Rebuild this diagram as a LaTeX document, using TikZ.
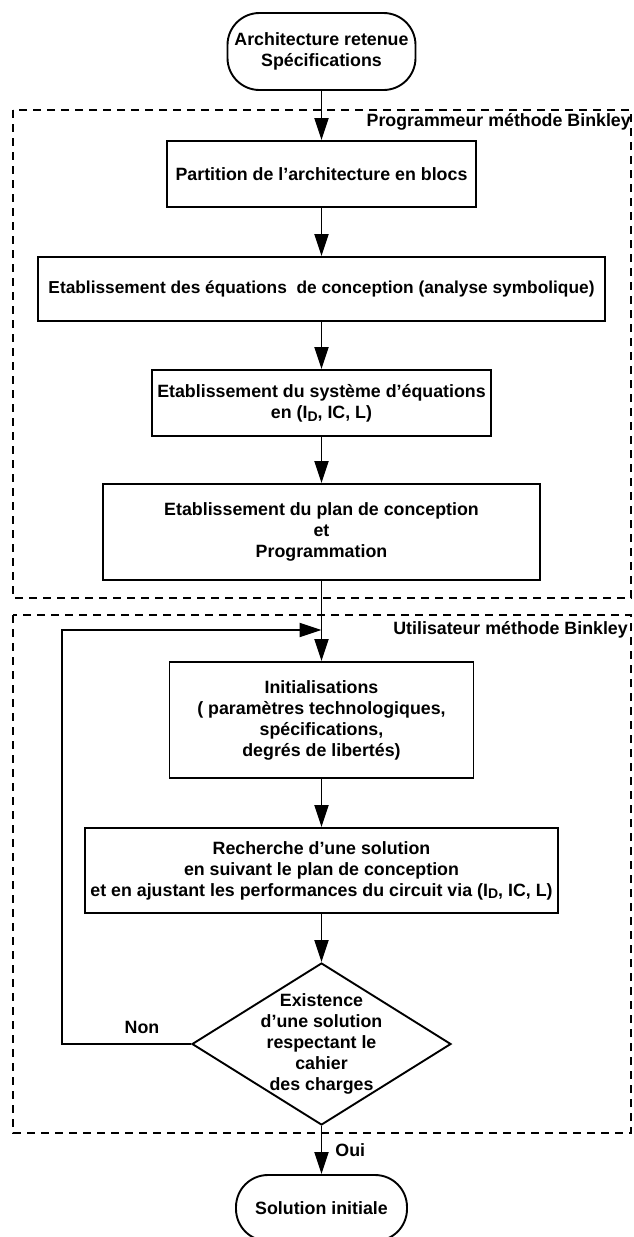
\documentclass[tikz,border=0pt]{standalone}
\usepackage{fontspec}
\setmainfont{Liberation Sans}
\usetikzlibrary{shapes.geometric,arrows.meta}
\newcommand{\Idrain}{I\raisebox{-.3ex}{\fontsize{14}{14}\selectfont D}}
\tikzset{
	bloc/.style={draw,line width=1.9pt,align=center,inner sep=0pt},
	terminal/.style={bloc,rounded corners=32pt},
	zone/.style={draw,line width=2pt,dash pattern=on 8pt off 6pt},
	flow/.style={line width=1.9pt,-{Triangle[length=22pt,width=14pt]}},
	tag/.style={inner sep=0pt}
}
\begin{document}
\begin{tikzpicture}[x=1pt,y=-1pt,font=\fontsize{17.8}{21}\selectfont\bfseries]
	%
	\def\axe{321.5}
	\def\zoneleft{13}
	\def\zoneright{631}
	\useasboundingbox (0,0) rectangle (633,1237);
	% zones
		\draw[zone] (\zoneleft,110) rectangle (\zoneright,598);
		\draw[zone] (\zoneleft,615) rectangle (\zoneright,1133);
		\node[tag,anchor=east] (prog) at (\zoneright,122) {Programmeur méthode Binkley};
		\node[tag,anchor=east] (util) at (628,630) {Utilisateur méthode Binkley};
	% blocs
		\node[terminal,minimum width=188,minimum height=77] (start) at (\axe,51.5) {Architecture retenue\\Spécifications};
		\node[bloc,minimum width=309,minimum height=66] (part) at (\axe,174) {Partition de l’architecture en blocs};
		\node[bloc,minimum width=567,minimum height=64,font=\fontsize{17.3}{21}\selectfont\bfseries] (equ) at (\axe,289) {Etablissement des équations~ de conception (analyse symbolique)};
		\node[bloc,minimum width=339,minimum height=66] (sys) at (\axe,403) {Etablissement du système d’équations\\en (\Idrain, IC, L)};
		\node[bloc,minimum width=437,minimum height=96] (plan) at (\axe,532) {Etablissement du plan de conception\\et\\Programmation};
		\node[bloc,minimum width=304,minimum height=116] (init) at (\axe,720) {Initialisations\\( paramètres technologiques,\\spécifications,\\degrés de libertés)};
		\node[bloc,minimum width=473,minimum height=85] (rech) at (\axe,870.5) {Recherche d’une solution\\en suivant le plan de conception\\et en ajustant les performances du circuit via (\Idrain, IC, L)};
		\node[bloc,diamond,minimum width=259,minimum height=162,
			label={[align=center]center:Existence\\d’une solution\\respectant le\\cahier\\des charges}] (test) at (\axe,1044) {};
		\node[terminal,minimum width=171,minimum height=66] (fin) at (\axe,1208) {Solution initiale};
	% flow
		\coordinate (merge) at (\axe,630);
		\coordinate (coin) at (62,1044);
		\foreach \a/\b in {start/part,part/equ,equ/sys,sys/plan,plan/init,init/rech,rech/test}
			\draw[flow] (\a.south) -- (\b.north);
		\draw[flow] (test.south) -- node[tag,midway,right=13pt] {Oui} (fin.north);
		\draw[flow] (test.west) -- node[tag,pos=.38,above=9pt] {Non} (coin) |- (merge);
\end{tikzpicture}
\end{document}
